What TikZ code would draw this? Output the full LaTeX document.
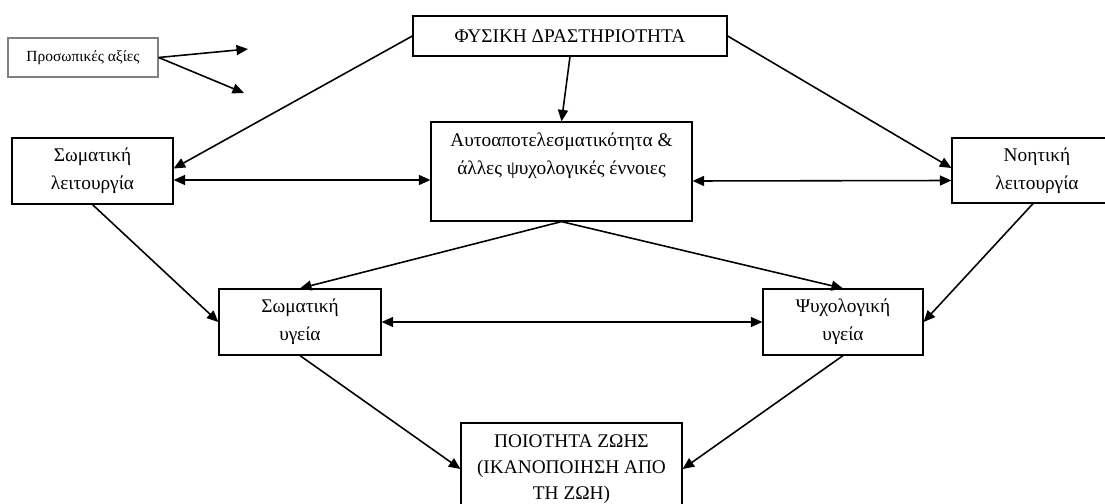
\documentclass[tikz,border=0pt]{standalone}
\usepackage{fontspec}
\setmainfont{Liberation Serif}
\usepackage{tikz}
\usetikzlibrary{arrows.meta}

\tikzset{
  box/.style={draw, line width=0.7pt, align=center, inner sep=2pt, font=\fontsize{11}{15.8}\selectfont},
  arr/.style={line width=0.9pt, -{Triangle[length=0.23cm, width=0.2cm]}},
  biarr/.style={line width=0.9pt, {Triangle[length=0.23cm, width=0.2cm]}-{Triangle[length=0.23cm, width=0.2cm]}}
}

\begin{document}
\begin{tikzpicture}

\path[use as bounding box, fill=white] (0,0) rectangle (22.1,-10.08);

%draw boxes
\node[box, draw=gray, font=\fontsize{8.8}{10}\selectfont, minimum width=3cm, minimum height=0.78cm] (pers) at (1.66,-1.15) {Προσωπικές αξίες};
\node[box, minimum width=6.28cm, minimum height=0.8cm] (phys) at (11.4,-0.72) {ΦΥΣΙΚΗ ΔΡΑΣΤΗΡΙΟΤΗΤΑ};
\node[box, minimum width=3.22cm, minimum height=1.32cm] (soml) at (1.85,-3.42) {Σωματική\\ λειτουργία};
\node[box, minimum width=5.22cm, minimum height=1.98cm] (self) at (11.23,-3.43) {Αυτοαποτελεσματικότητα \&\\ άλλες ψυχολογικές έννοιες\\ \strut};
\node[box, minimum width=3.4cm, minimum height=1.3cm] (noit) at (20.74,-3.41) {Νοητική\\ λειτουργία};
\node[box, minimum width=3.24cm, minimum height=1.32cm] (somu) at (6.0,-6.44) {Σωματική\\ υγεία};
\node[box, minimum width=3.2cm, minimum height=1.32cm] (psyu) at (16.86,-6.44) {Ψυχολογική\\ υγεία};
\node[box, font=\fontsize{11}{14.8}\selectfont, minimum width=4.42cm, minimum height=1.84cm] (qol) at (11.43,-9.38) {ΠΟΙΟΤΗΤΑ ΖΩΗΣ\\ (ΙΚΑΝΟΠΟΙΗΣΗ ΑΠΟ\\ ΤΗ ΖΩΗ)};

%free ends of the two short arrows
\coordinate (pa) at (4.96,-0.98);
\coordinate (pb) at (4.88,-1.86);

%draw arrows
\draw[arr] (pers.east) -- (pa);
\draw[arr] (pers.east) -- (pb);

\draw[arr] (phys.west) -- ([yshift=0.05cm]soml.east);
\draw[arr] (phys.east) -- ([yshift=0.05cm]noit.west);
\draw[arr] (phys.south) -- (self.north);

\draw[biarr] ([yshift=-0.18cm]soml.east) -- ([yshift=-0.17cm]self.west);
\draw[biarr] ([yshift=-0.19cm]self.east) -- ([yshift=-0.2cm]noit.west);

\draw[arr] (soml.south) -- (somu.west);
\draw[arr] ([xshift=-0.08cm]noit.south) -- (psyu.east);
\draw[arr] (self.south) -- (somu.north);
\draw[arr] (self.south) -- (psyu.north);

\draw[biarr] (somu.east) -- (psyu.west);

\draw[arr] (somu.south) -- (qol.west);
\draw[arr] (psyu.south) -- (qol.east);

\end{tikzpicture}
\end{document}
